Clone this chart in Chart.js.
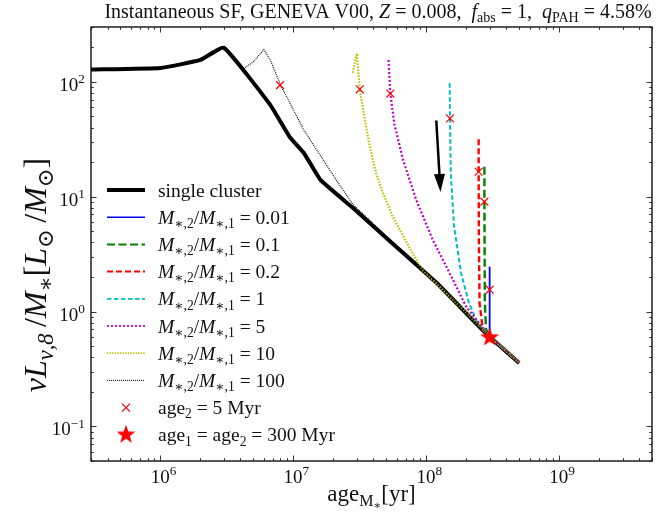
<!DOCTYPE html>
<html>
<head>
<meta charset="utf-8">
<script src="https://cdn.jsdelivr.net/npm/chart.js@4.4.1/dist/chart.umd.min.js"></script>
<style>
  html, body { margin: 0; padding: 0; background: #fff; }
  canvas { display: block; }
</style>
</head>
<body>
<canvas id="myChart" width="665" height="514"></canvas>
<script>
// values (age in yr, nuL/M in Lsun/Msun)
const singleAge = [3e5, 1e6, 2e6, 3e6, 6.7e6, 9.4e6, 1.2e7, 1.6e7, 2.8e7, 5.6e7, 1.2e8, 2.8e8, 5e8];
const singleL   = [128, 132, 155, 198, 63, 33, 24, 14, 8.0, 3.9, 1.77, 0.65, 0.356];

const m001Age = [3e8, 3e8, 5e8];
const m001L   = [2.46, 0.6, 0.36];

const m01Age = [2.74e8, 2.74e8, 2.76e8, 2.82e8, 3e8, 5e8];
const m01L   = [18.2, 9.06, 1.2, 0.7, 0.61, 0.36];

const m02Age = [2.48e8, 2.48e8, 2.49e8, 2.52e8, 2.67e8, 3e8, 5e8];
const m02L   = [31.6, 16.5, 4.2, 1.18, 0.69, 0.61, 0.36];

const m1Age = [1.5e8, 1.51e8, 1.53e8, 1.62e8, 1.83e8, 2.1e8, 2.44e8, 3e8, 5e8];
const m1L   = [97, 48, 16, 5.5, 2.16, 1.18, 0.79, 0.61, 0.36];

const m5Age = [5.2e7, 5.37e7, 5.75e7, 6.7e7, 8.4e7, 1.12e8, 1.5e8, 2e8, 3e8, 5e8];
const m5L   = [155, 79, 43, 20.8, 9.4, 4.2, 2.16, 1.1, 0.61, 0.36];

const m10Age = [2.8e7, 3.0e7, 3.16e7, 3.35e7, 3.76e7, 4.2e7, 4.73e7, 5.6e7, 7.9e7, 9.4e7, 1.2e8, 2e8, 3e8, 5e8];
const m10L   = [120, 177, 86, 57, 27, 16, 10.7, 6.7, 3.2, 2.3, 1.75, 0.98, 0.61, 0.36];

const m100Age = [4.2e6, 5e6, 6e6, 6.7e6, 8e6, 1.2e7, 2.1e7, 2.8e7, 5.6e7, 1.2e8, 2.8e8, 5e8];
const m100L   = [130, 149, 191, 155, 94, 38, 14, 8.6, 4.0, 1.8, 0.66, 0.36];

// age2 = 5 Myr markers
const markAge = [7.94e6, 3.16e7, 5.37e7, 1.51e8, 2.48e8, 2.74e8, 3e8];
const markL   = [93.6, 86, 79, 48, 16.5, 9.06, 1.55];

// age1 = age2 = 300 Myr
const starAge = [3e8];
const starL   = [0.6];

// arrow (tail, head)
const arrowAge = [1.19e8, 1.28e8];
const arrowL   = [46, 11];

const xTicks = [1e6, 1e7, 1e8, 1e9];
const xTickExp = ['6', '7', '8', '9'];
const yTicks = [0.1, 1, 10, 100];
const yTickExp = ['\u22121', '0', '1', '2'];

function pts(a, b) {
  return a.map((v, i) => ({ x: v, y: b[i] }));
}

const SERIF = '"Liberation Serif", "DejaVu Serif", serif';

// star marker image
const starImg = document.createElement('canvas');
starImg.width = 22; starImg.height = 22;
(function () {
  const c = starImg.getContext('2d');
  c.fillStyle = '#ff0000';
  c.beginPath();
  for (let i = 0; i < 10; i++) {
    const r = i % 2 === 0 ? 10 : 4;
    const a = -Math.PI / 2 + i * Math.PI / 5;
    const px = 11 + r * Math.cos(a), py = 11.5 + r * Math.sin(a);
    if (i === 0) c.moveTo(px, py); else c.lineTo(px, py);
  }
  c.closePath();
  c.fill();
})();

// rich text helpers: '' normal, 'i' italic, 's' sub, 'si' italic sub, 'ss' sub-sub, 'p' sup
function fontFor(k, size) {
  let s = size;
  if (k.indexOf('ss') >= 0) s = size * 0.5;
  else if (k.indexOf('s') >= 0 || k.indexOf('p') >= 0) s = size * 0.7;
  return (k.indexOf('i') >= 0 ? 'italic ' : '') + s.toFixed(1) + 'px ' + SERIF;
}
function offFor(k, size) {
  if (k.indexOf('ss') >= 0) return size * 0.36;
  if (k.indexOf('s') >= 0) return size * 0.22;
  if (k.indexOf('p') >= 0) return -size * 0.4;
  return 0;
}
function drawRich(ctx, parts, x, y, size, align) {
  let w = 0;
  parts.forEach(p => { ctx.font = fontFor(p[1], size); w += ctx.measureText(p[0]).width; });
  let cx = align === 'center' ? x - w / 2 : (align === 'right' ? x - w : x);
  ctx.textAlign = 'left';
  ctx.textBaseline = 'alphabetic';
  parts.forEach(p => {
    ctx.font = fontFor(p[1], size);
    ctx.fillText(p[0], cx, y + offFor(p[1], size));
    cx += ctx.measureText(p[0]).width;
  });
}

function ratioLabel(v) {
  return [['M', 'i'], ['\u2217,2', 's'], ['/', ''], ['M', 'i'], ['\u2217,1', 's'], [' = ' + v, '']];
}

const legendRows = [
  { color: '#000', width: 4, dash: [], text: [['single cluster', '']] },
  { color: '#0000ff', width: 1.6, dash: [], text: ratioLabel('0.01') },
  { color: '#008000', width: 2, dash: [8, 3.5], text: ratioLabel('0.1') },
  { color: '#ff0000', width: 2, dash: [6, 3], text: ratioLabel('0.2') },
  { color: '#00bfbf', width: 1.8, dash: [4.5, 2.5], text: ratioLabel('1') },
  { color: '#bf00bf', width: 1.8, dash: [2, 2], text: ratioLabel('5') },
  { color: '#bfbf00', width: 1.8, dash: [1.3, 1.3], text: ratioLabel('10') },
  { color: '#000', width: 1, dash: [1, 1], text: ratioLabel('100') },
  { marker: 'x', text: [['age', ''], ['2', 's'], [' = 5 Myr', '']] },
  { marker: 'star', text: [['age', ''], ['1', 's'], [' = age', ''], ['2', 's'], [' = 300 Myr', '']] }
];

const decor = {
  id: 'decor',
  afterDatasetsDraw(chart) {
    const c = chart.ctx, xs = chart.scales.x, ys = chart.scales.y;
    // arrow
    const x0 = xs.getPixelForValue(arrowAge[0]), y0 = ys.getPixelForValue(arrowL[0]);
    const x1 = xs.getPixelForValue(arrowAge[1]), y1 = ys.getPixelForValue(arrowL[1]);
    const ang = Math.atan2(y1 - y0, x1 - x0);
    const hl = 18, hw = 5.5;
    const bx = x1 - hl * Math.cos(ang), by = y1 - hl * Math.sin(ang);
    c.save();
    c.strokeStyle = '#000'; c.fillStyle = '#000'; c.lineWidth = 2.5;
    c.beginPath(); c.moveTo(x0, y0); c.lineTo(bx, by); c.stroke();
    c.beginPath();
    c.moveTo(x1, y1);
    c.lineTo(bx + hw * Math.sin(ang), by - hw * Math.cos(ang));
    c.lineTo(bx - hw * Math.sin(ang), by + hw * Math.cos(ang));
    c.closePath(); c.fill();
    c.restore();
  },
  afterDraw(chart) {
    const c = chart.ctx, a = chart.chartArea, xs = chart.scales.x, ys = chart.scales.y;
    c.save();
    // minor / major ticks on all sides
    c.strokeStyle = '#222'; c.lineWidth = 0.9;
    c.beginPath();
    for (let e = 5; e <= 9; e++) {
      for (let k = 1; k <= 9; k++) {
        const v = k * Math.pow(10, e);
        if (v < xs.min || v > xs.max) continue;
        const px = Math.round(xs.getPixelForValue(v)) + 0.5;
        const len = k === 1 ? 5.5 : 2.8;
        c.moveTo(px, a.bottom); c.lineTo(px, a.bottom - len);
        c.moveTo(px, a.top); c.lineTo(px, a.top + len);
      }
    }
    for (let e = -2; e <= 2; e++) {
      for (let k = 1; k <= 9; k++) {
        const v = k * Math.pow(10, e);
        if (v < ys.min || v > ys.max) continue;
        const py = Math.round(ys.getPixelForValue(v)) + 0.5;
        const len = k === 1 ? 5.5 : 2.8;
        c.moveTo(a.left, py); c.lineTo(a.left + len, py);
        c.moveTo(a.right, py); c.lineTo(a.right - len, py);
      }
    }
    c.stroke();
    // frame
    c.strokeStyle = '#111'; c.lineWidth = 1.4;
    c.strokeRect(a.left, a.top, a.right - a.left, a.bottom - a.top);

    c.fillStyle = '#111';
    // tick labels
    xTicks.forEach((v, i) => {
      drawRich(c, [['10', ''], [xTickExp[i], 'p']], xs.getPixelForValue(v) + 3, a.bottom + 22, 19, 'center');
    });
    yTicks.forEach((v, i) => {
      drawRich(c, [['10', ''], [yTickExp[i], 'p']], a.left - 6, ys.getPixelForValue(v) + 9, 19, 'right');
    });

    // title
    drawRich(c, [
      ['Instantaneous SF, GENEVA V00, ', ''], ['Z', 'i'], [' = 0.008,  ', ''],
      ['f', 'i'], ['abs', 's'], [' = 1,  ', ''], ['q', 'i'], ['PAH', 's'], [' = 4.58%', '']
    ], 378, 18, 20, 'center');

    // axis titles
    drawRich(c, [['age', ''], ['M', 's'], ['\u2217', 'ss'], ['[yr]', '']], (a.left + a.right) / 2, 501, 23, 'center');
    c.save();
    c.translate(46, 275);
    c.rotate(-Math.PI / 2);
    drawRich(c, [
      ['\u03bd', 'i'], ['L', 'i'], ['\u03bd,8', 'si'], ['\u2009/', ''], ['M', 'i'], ['\u2217', 's'],
      ['[', ''], ['L', 'i'], ['\u2299', 's'], ['\u2009/', ''], ['M', 'i'], ['\u2299', 's'], [']', '']
    ], 0, 0, 32, 'center');
    c.restore();

    // legend
    legendRows.forEach((r, i) => {
      const ry = 190 + i * 27.2;
      if (r.marker === 'x') {
        c.strokeStyle = '#ff0000'; c.lineWidth = 1.2; c.setLineDash([]);
        c.beginPath();
        c.moveTo(122, ry - 4); c.lineTo(130, ry + 4);
        c.moveTo(130, ry - 4); c.lineTo(122, ry + 4);
        c.stroke();
      } else if (r.marker === 'star') {
        c.drawImage(starImg, 126 - 11, ry - 11.5);
      } else {
        c.strokeStyle = r.color; c.lineWidth = r.width; c.setLineDash(r.dash);
        c.beginPath(); c.moveTo(107, ry); c.lineTo(145, ry); c.stroke();
        c.setLineDash([]);
      }
      c.fillStyle = '#111';
      drawRich(c, r.text, 158, ry + 6.5, 19.5, 'left');
    });
    c.restore();
  }
};

function lineSet(ages, vals, color, width, dash, order, tension) {
  return {
    data: pts(ages, vals), borderColor: color, borderWidth: width, borderDash: dash,
    pointRadius: 0, fill: false, tension: tension || 0, order: order
  };
}

const ctx = document.getElementById('myChart').getContext('2d');
const myChart = new Chart(ctx, {
  type: 'line',
  data: {
    datasets: [
      lineSet(singleAge, singleL, '#000', 4, [], 20, 0.12),
      lineSet(m001Age, m001L, '#0000ff', 1.8, [], 12),
      lineSet(m01Age, m01L, '#008000', 2.4, [8, 3.5], 11),
      lineSet(m02Age, m02L, '#ff0000', 2.4, [6, 3], 10),
      lineSet(m1Age, m1L, '#00bfbf', 2, [4.5, 2.5], 9),
      lineSet(m5Age, m5L, '#bf00bf', 2.2, [2, 2], 8),
      lineSet(m10Age, m10L, '#bfbf00', 2.2, [1.5, 1.5], 7),
      lineSet(m100Age, m100L, '#000', 1.1, [1, 1], 6),
      {
        data: pts(markAge, markL), showLine: false, pointStyle: 'crossRot',
        pointRadius: 5.5, pointBorderColor: '#ff0000', pointBorderWidth: 1.2, order: 2
      },
      {
        data: pts(starAge, starL), showLine: false, pointStyle: starImg,
        pointRadius: 10, order: 1
      }
    ]
  },
  options: {
    responsive: false,
    animation: false,
    devicePixelRatio: 1,
    layout: { padding: { left: 91, right: 13, top: 27, bottom: 53 } },
    plugins: { legend: { display: false }, tooltip: { enabled: false } },
    scales: {
      x: { type: 'logarithmic', min: 3e5, max: 5e9, display: false },
      y: { type: 'logarithmic', min: 0.05, max: 300, display: false }
    }
  },
  plugins: [decor]
});
</script>
</body>
</html>
